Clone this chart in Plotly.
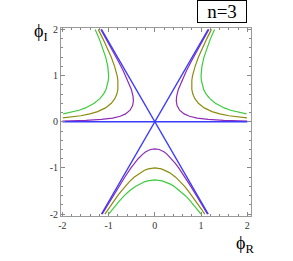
import plotly.graph_objects as go

# ---- data ----
# blue straight lines
line_h_x = [-2.0, 2.0]
line_h_y = [0.0, 0.0]
line_a_x = [-1.155, 1.155]
line_a_y = [-2.0, 2.0]
line_b_x = [-1.155, 1.155]
line_b_y = [2.0, -2.0]

# lower branches
low_y_c02 = [-2.0, -1.8, -1.6, -1.4, -1.2, -1.0, -0.9, -0.8, -0.7, -0.65, -0.6, -0.585,
             -0.6, -0.65, -0.7, -0.8, -0.9, -1.0, -1.2, -1.4, -1.6, -1.8, -2.0]
low_x_c02 = [-1.140, -1.021, -0.901, -0.778, -0.651, -0.516, -0.443, -0.361, -0.261, -0.196, -0.094, 0.0,
             0.094, 0.196, 0.261, 0.361, 0.443, 0.516, 0.651, 0.778, 0.901, 1.021, 1.140]

low_y_c1 = [-2.0, -1.9, -1.8, -1.7, -1.6, -1.5, -1.4, -1.3, -1.2, -1.1, -1.05, -1.02, -1.0,
            -1.02, -1.05, -1.1, -1.2, -1.3, -1.4, -1.5, -1.6, -1.7, -1.8, -1.9, -2.0]
low_x_c1 = [-1.080, -1.014, -0.946, -0.876, -0.803, -0.726, -0.644, -0.554, -0.450, -0.317, -0.224, -0.141, 0.0,
            0.141, 0.224, 0.317, 0.450, 0.554, 0.644, 0.726, 0.803, 0.876, 0.946, 1.014, 1.080]

low_y_c2 = [-2.0, -1.9, -1.8, -1.7, -1.6, -1.5, -1.4, -1.35, -1.3, -1.28, -1.26,
            -1.28, -1.3, -1.35, -1.4, -1.5, -1.6, -1.7, -1.8, -1.9, -2.0]
low_x_c2 = [-1.0, -0.923, -0.842, -0.756, -0.661, -0.553, -0.421, -0.337, -0.225, -0.159, 0.0,
            0.159, 0.225, 0.337, 0.421, 0.553, 0.661, 0.756, 0.842, 0.923, 1.0]

# upper right branches
ur_y_c02 = [0.0167, 0.02, 0.03, 0.05, 0.08, 0.12, 0.17, 0.25, 0.35, 0.45, 0.55, 0.7, 0.9, 1.1, 1.3, 1.5, 1.75, 2.0]
ur_x_c02 = [2.0, 1.826, 1.491, 1.155, 0.914, 0.749, 0.634, 0.536, 0.481, 0.464, 0.471, 0.508, 0.587, 0.681, 0.784, 0.891, 1.029, 1.169]

ur_y_c1 = [0.084, 0.1, 0.13, 0.17, 0.22, 0.3, 0.4, 0.5, 0.6, 0.7, 0.8, 0.9, 1.0, 1.2, 1.4, 1.6, 1.8, 2.0]
ur_x_c1 = [1.993, 1.827, 1.603, 1.404, 1.237, 1.068, 0.942, 0.866, 0.822, 0.800, 0.794, 0.800, 0.816, 0.871, 0.944, 1.030, 1.125, 1.225]

ur_y_c2 = [0.17, 0.2, 0.25, 0.3, 0.4, 0.5, 0.6, 0.7, 0.8, 0.9, 1.0, 1.1, 1.2, 1.4, 1.6, 1.8, 2.0]
ur_x_c2 = [1.983, 1.829, 1.639, 1.501, 1.311, 1.190, 1.110, 1.056, 1.023, 1.005, 1.0, 1.005, 1.018, 1.063, 1.127, 1.204, 1.291]

# upper left branches (mirror of upper right)
ul_y_c02 = ur_y_c02
ul_x_c02 = [-2.0, -1.826, -1.491, -1.155, -0.914, -0.749, -0.634, -0.536, -0.481, -0.464, -0.471, -0.508, -0.587, -0.681, -0.784, -0.891, -1.029, -1.169]
ul_y_c1 = ur_y_c1
ul_x_c1 = [-1.993, -1.827, -1.603, -1.404, -1.237, -1.068, -0.942, -0.866, -0.822, -0.800, -0.794, -0.800, -0.816, -0.871, -0.944, -1.030, -1.125, -1.225]
ul_y_c2 = ur_y_c2
ul_x_c2 = [-1.983, -1.829, -1.639, -1.501, -1.311, -1.190, -1.110, -1.056, -1.023, -1.005, -1.0, -1.005, -1.018, -1.063, -1.127, -1.204, -1.291]

tick_vals = [-2, -1, 0, 1, 2]
tick_text = ["-2", "-1", "0", "1", "2"]

BLUE = "#3a3aff"
PURPLE = "#8e2bb5"
OLIVE = "#8c8c10"
GREEN = "#3ccc3c"

fig = go.Figure()

def add(x, y, color, width=1.2):
    fig.add_trace(go.Scatter(x=x, y=y, mode="lines", line=dict(color=color, width=width),
                             hoverinfo="skip", showlegend=False))

for xs, ys in [(ul_x_c2, ul_y_c2), (ur_x_c2, ur_y_c2), (low_x_c2, low_y_c2)]:
    add(xs, ys, GREEN)
for xs, ys in [(ul_x_c1, ul_y_c1), (ur_x_c1, ur_y_c1), (low_x_c1, low_y_c1)]:
    add(xs, ys, OLIVE)
for xs, ys in [(ul_x_c02, ul_y_c02), (ur_x_c02, ur_y_c02), (low_x_c02, low_y_c02)]:
    add(xs, ys, PURPLE)
add(line_h_x, line_h_y, BLUE, 1.7)
add(line_a_x, line_a_y, BLUE, 1.3)
add(line_b_x, line_b_y, BLUE, 1.3)

axis_common = dict(
    tickvals=tick_vals, ticktext=tick_text,
    ticks="inside", ticklen=4, tickwidth=1, tickcolor="#888888",
    minor=dict(ticks="inside", ticklen=2, dtick=0.2, tick0=0, tickcolor="#888888", tickwidth=1),
    showline=True, linecolor="#999999", linewidth=1, mirror="ticks",
    showgrid=False, zeroline=False,
    tickfont=dict(family="Liberation Serif", size=10, color="#333333"),
)

W, H = 293, 261
L, R, T, B = 61, 42, 28, 45
fig.update_layout(
    width=W, height=H,
    margin=dict(l=L, r=R, t=T, b=B),
    plot_bgcolor="white", paper_bgcolor="white",
    xaxis=dict(range=[-2.03, 2.08], **axis_common),
    yaxis=dict(range=[-2.04, 2.03], **axis_common),
)

pw, ph = W - L - R, H - T - B
def px(xp):
    return (xp - L) / pw
def py(yp):
    return (H - B - yp) / ph

fig.add_annotation(text="ϕ<sub>I</sub>", xref="paper", yref="paper", x=px(41), y=py(32),
                   xanchor="center", yanchor="middle", showarrow=False,
                   font=dict(family="Liberation Serif", size=18, color="black"))
fig.add_annotation(text="ϕ<sub>R</sub>", xref="paper", yref="paper", x=px(245), y=py(244),
                   xanchor="center", yanchor="middle", showarrow=False,
                   font=dict(family="Liberation Serif", size=18, color="black"))
fig.add_annotation(text="n=3", xref="paper", yref="paper", x=px(221.5), y=py(11.5),
                   xanchor="center", yanchor="middle", showarrow=False,
                   bordercolor="black", borderwidth=1, borderpad=0, width=48, height=21,
                   font=dict(family="Liberation Serif", size=19, color="black"))

fig.write_html("out.html", config={"displayModeBar": False},
               post_script="document.body.style.margin='0';")
